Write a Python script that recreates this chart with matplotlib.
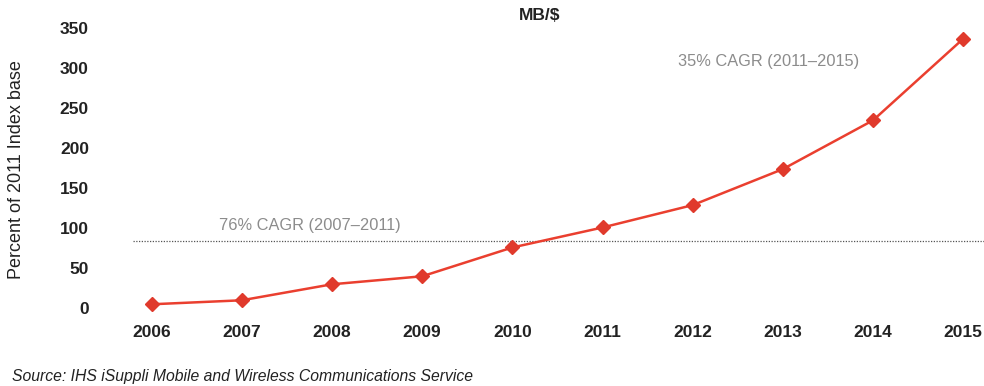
import matplotlib
matplotlib.use("Agg")
import matplotlib.pyplot as plt

plt.rcParams["font.family"] = ["Liberation Sans", "DejaVu Sans"]

years = [2006, 2007, 2008, 2009, 2010, 2011, 2012, 2013, 2014, 2015]
mb_per_dollar = [5, 10, 30, 40, 76, 101, 129, 174, 235, 337]
ref_level = 84.5
y_ticks = [0, 50, 100, 150, 200, 250, 300, 350]

line_red = "#ea3f2f"
note_gray = "#8c8c8c"

fig = plt.figure(figsize=(9.84, 3.86), dpi=100)
ax = fig.add_axes([132.7 / 984, 1 - 315 / 386, 1 - 132.7 / 984, 295 / 386])

ax.axhline(ref_level, color="#555555", linestyle=(0, (1, 1.2)), linewidth=0.9)
ax.plot(years, mb_per_dollar, color=line_red, linewidth=1.8, marker="D",
        markersize=7, markerfacecolor="#e03a2c", markeredgecolor="#e03a2c")

ax.set_xlim(2005.79, 2015.23)
ax.set_ylim(-8.4, 360.4)
ax.set_xticks(years)
ax.set_xticklabels([str(y) for y in years], fontsize=12.5, fontweight="bold",
                   color="#222222")
ax.set_yticks(y_ticks)
ax.set_yticklabels([str(v) for v in y_ticks], fontsize=12.5, fontweight="bold",
                   color="#222222")
ax.tick_params(axis="y", length=0, pad=31.5)
ax.tick_params(axis="x", length=0, pad=7)
for s in ax.spines.values():
    s.set_visible(False)

ax.set_ylabel("Percent of 2011 Index base", fontsize=13, color="#222222")
ax.yaxis.set_label_coords((25 - 132.7) / 851.3, (315 - 170) / 295)

fig.text(540 / 984, 1 - 16 / 386, "MB/$", fontsize=12.5, fontweight="bold",
         ha="center", va="center", color="#222222")
fig.text(310 / 984, 1 - 225.7 / 386, "76% CAGR (2007\u20132011)", fontsize=11.8,
         ha="center", va="center", color=note_gray)
fig.text(769 / 984, 1 - 61.7 / 386, "35% CAGR (2011\u20132015)", fontsize=11.8,
         ha="center", va="center", color=note_gray)
fig.text(12 / 984, 1 - 377 / 386,
         "Source: IHS iSuppli Mobile and Wireless Communications Service",
         fontsize=11.3, style="italic", ha="left", va="center", color="#222222")

fig.savefig("out.png", dpi=100)
